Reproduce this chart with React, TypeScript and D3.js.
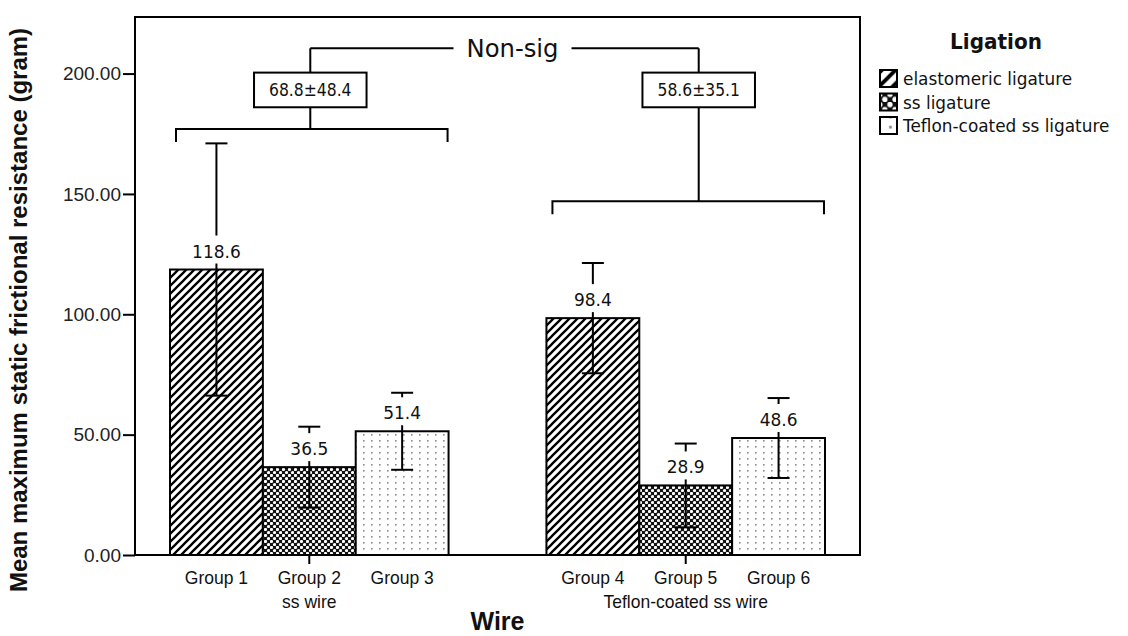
import React, { useEffect, useRef } from 'react';
import * as d3 from 'd3';

// wire types on the x axis, ligation types inside each group
const wires = ['ss wire', 'Teflon-coated ss wire'];
const ligations = ['elastomeric ligature', 'ss ligature', 'Teflon-coated ss ligature'];
const groupNames = [['Group 1', 'Group 2', 'Group 3'], ['Group 4', 'Group 5', 'Group 6']];
const means = [[118.6, 36.5, 51.4], [98.4, 28.9, 48.6]];
const sds = [[52.4, 16.8, 16.0], [22.9, 17.4, 16.6]];
const pooled = ['68.8±48.4', '58.6±35.1'];
const yTicks = [0, 50, 100, 150, 200];

// annotation levels (in grams)
const bracketLevels = [177, 147];
const boxTop = 200.4;
const boxBottom = 186;
const nonSigLevel = 210.5;

const patternIds = ['hatch', 'cross', 'dots'];
const TAHOMA = '"DejaVu Sans", Verdana, sans-serif';
const ARIAL = '"Liberation Sans", Arial, sans-serif';

// tahoma is narrower than dejavu: keep the width of a smaller size, draw taller glyphs
function narrow(sel, drawSize, widthSize) {
  sel.attr('font-size', widthSize);
  const w = sel.node().getComputedTextLength();
  sel.attr('font-size', drawSize)
    .attr('textLength', w)
    .attr('lengthAdjust', 'spacingAndGlyphs');
  return sel;
}

function App() {
  const svgRef = useRef(null);

  useEffect(() => {
    const svg = d3.select(svgRef.current);
    svg.selectAll('*').remove();

    const left = 135, right = 860, top = 17, bottom = 555;

    const y = d3.scaleLinear().domain([0, 223.5]).range([bottom, top]);
    const x0 = d3.scaleBand().domain(wires).range([left, right])
      .paddingInner(0.26).paddingOuter(0.093);
    const x1 = d3.scaleBand().domain(ligations).range([0, x0.bandwidth()]);

    // patterns
    const defs = svg.append('defs');
    const makePatterns = (suffix, scale) => {
      const h = defs.append('pattern').attr('id', 'hatch' + suffix)
        .attr('patternUnits', 'userSpaceOnUse').attr('width', 8).attr('height', 8)
        .attr('patternTransform', `scale(${scale})`);
      h.append('rect').attr('width', 8).attr('height', 8).attr('fill', '#fff');
      h.append('path').attr('d', 'M-2,2 l4,-4 M0,8 l8,-8 M6,10 l4,-4')
        .attr('stroke', '#000').attr('stroke-width', 2.3);

      const c = defs.append('pattern').attr('id', 'cross' + suffix)
        .attr('patternUnits', 'userSpaceOnUse').attr('width', 6).attr('height', 6)
        .attr('patternTransform', `scale(${scale})`);
      c.append('rect').attr('width', 6).attr('height', 6).attr('fill', '#111');
      c.append('circle').attr('cx', 1.5).attr('cy', 1.5).attr('r', 1.6).attr('fill', '#fff');
      c.append('circle').attr('cx', 4.5).attr('cy', 4.5).attr('r', 1.6).attr('fill', '#fff');

      const d = defs.append('pattern').attr('id', 'dots' + suffix)
        .attr('patternUnits', 'userSpaceOnUse').attr('width', 8).attr('height', 6)
        .attr('patternTransform', `scale(${scale})`);
      d.append('rect').attr('width', 8).attr('height', 6).attr('fill', '#fff');
      d.append('rect').attr('x', 3).attr('y', 2).attr('width', 1.6).attr('height', 1.6).attr('fill', '#8a8a8a');
    };
    makePatterns('', 1);
    makePatterns('-lg', 1.7);

    // y axis
    const yAxis = svg.append('g')
      .attr('transform', `translate(${left},0)`)
      .call(d3.axisLeft(y).tickValues(yTicks).tickFormat(d3.format('.2f'))
        .tickSize(12).tickPadding(2).tickSizeOuter(0));
    yAxis.select('.domain').remove();
    yAxis.selectAll('line').attr('stroke', '#000').attr('stroke-width', 2);
    yAxis.selectAll('text')
      .attr('font-family', ARIAL)
      .attr('font-size', 19).attr('fill', '#222');

    // bars
    const flat = [];
    wires.forEach((w, i) => ligations.forEach((l, j) => flat.push({
      w, l, j, mean: means[i][j], sd: sds[i][j], name: groupNames[i][j],
    })));

    svg.append('g').selectAll('rect')
      .data(flat).enter().append('rect')
      .attr('x', d => x0(d.w) + x1(d.l))
      .attr('y', d => y(d.mean))
      .attr('width', x1.bandwidth())
      .attr('height', d => y(0) - y(d.mean))
      .attr('fill', d => `url(#${patternIds[d.j]})`)
      .attr('stroke', '#000').attr('stroke-width', 2);

    // error bars
    const eb = svg.append('g').attr('stroke', '#000').attr('stroke-width', 2);
    flat.forEach(d => {
      const cx = x0(d.w) + x1(d.l) + x1.bandwidth() / 2;
      eb.append('line').attr('x1', cx).attr('x2', cx)
        .attr('y1', y(d.mean + d.sd)).attr('y2', y(d.mean - d.sd));
      [d.mean + d.sd, d.mean - d.sd].forEach(v => {
        eb.append('line').attr('x1', cx - 11).attr('x2', cx + 11)
          .attr('y1', y(v)).attr('y2', y(v));
      });
    });

    // value labels with white backing
    const lab = svg.append('g');
    flat.forEach(d => {
      const cx = x0(d.w) + x1(d.l) + x1.bandwidth() / 2;
      const g = lab.append('g');
      const t = g.append('text')
        .attr('x', cx).attr('y', y(d.mean) - 12)
        .attr('text-anchor', 'middle')
        .attr('font-family', TAHOMA)
        .attr('fill', '#111')
        .text(d.mean.toFixed(1));
      narrow(t, 18.5, 17);
      const bb = t.node().getBBox();
      g.insert('rect', 'text')
        .attr('x', bb.x - 2).attr('y', y(d.mean) - 12 - 22)
        .attr('width', bb.width + 4).attr('height', 28)
        .attr('fill', '#fff');
    });

    // frame
    svg.append('rect')
      .attr('x', left).attr('y', top)
      .attr('width', right - left).attr('height', bottom - top)
      .attr('fill', 'none').attr('stroke', '#000').attr('stroke-width', 2);

    // x ticks and labels
    const xa = svg.append('g');
    wires.forEach((w, i) => {
      const cx = x0(w) + x0.bandwidth() / 2;
      xa.append('line').attr('x1', cx).attr('x2', cx)
        .attr('y1', bottom).attr('y2', bottom + 9)
        .attr('stroke', '#000').attr('stroke-width', 2);
      ligations.forEach((l, j) => {
        const t = xa.append('text')
          .attr('x', x0(w) + x1(l) + x1.bandwidth() / 2).attr('y', 584)
          .attr('text-anchor', 'middle')
          .attr('font-family', ARIAL)
          .attr('fill', '#111')
          .text(groupNames[i][j]);
        narrow(t, 19, 17.5);
      });
      const t = xa.append('text')
        .attr('x', cx).attr('y', 608)
        .attr('text-anchor', 'middle')
        .attr('font-family', ARIAL)
        .attr('fill', '#111')
        .text(w);
      narrow(t, 19, 17.5);
    });

    svg.append('text')
      .attr('x', (left + right) / 2).attr('y', 630)
      .attr('text-anchor', 'middle')
      .attr('font-family', ARIAL)
      .attr('font-weight', 'bold').attr('font-size', 25).attr('fill', '#111')
      .text('Wire');

    svg.append('text')
      .attr('transform', `translate(27,310) rotate(-90)`)
      .attr('text-anchor', 'middle')
      .attr('font-family', ARIAL)
      .attr('font-weight', 'bold').attr('font-size', 24).attr('fill', '#111')
      .text('Mean maximum static frictional resistance (gram)');

    // brackets and pooled mean boxes
    const stemNudge = [1, 13];
    const ann = svg.append('g').attr('stroke', '#000').attr('stroke-width', 2).attr('fill', 'none');
    const stems = [];
    wires.forEach((w, i) => {
      const bx0 = x0(w) + 6;
      const bx1 = x0(w) + x0.bandwidth() - 1;
      const by = y(bracketLevels[i]);
      const sx = x0(w) + x0.bandwidth() / 2 + stemNudge[i];
      stems.push(sx);
      ann.append('path')
        .attr('d', `M${bx0},${by + 13}V${by}H${bx1}V${by + 13}`);
      ann.append('line').attr('x1', sx).attr('x2', sx)
        .attr('y1', by).attr('y2', y(boxBottom));
      ann.append('line').attr('x1', sx).attr('x2', sx)
        .attr('y1', y(boxTop)).attr('y2', y(nonSigLevel));
      const t = svg.append('text')
        .attr('x', sx).attr('y', (y(boxTop) + y(boxBottom)) / 2 + 6.5)
        .attr('text-anchor', 'middle')
        .attr('font-family', TAHOMA)
        .attr('fill', '#111')
        .text(pooled[i]);
      narrow(t, 18.5, 15.6);
      const bw = t.node().getComputedTextLength() + 30;
      ann.append('rect')
        .attr('x', sx - bw / 2).attr('y', y(boxTop))
        .attr('width', bw).attr('height', y(boxBottom) - y(boxTop));
    });

    const nsX = (stems[0] + stems[1]) / 2 + 8;
    const ns = svg.append('text')
      .attr('x', nsX).attr('y', y(nonSigLevel) + 8.5)
      .attr('text-anchor', 'middle')
      .attr('font-family', TAHOMA)
      .attr('fill', '#111')
      .text('Non-sig');
    narrow(ns, 25.5, 24.3);
    const nb = ns.node().getBBox();
    ann.append('line').attr('x1', stems[0]).attr('x2', nb.x - 13)
      .attr('y1', y(nonSigLevel)).attr('y2', y(nonSigLevel));
    ann.append('line').attr('x1', nb.x + nb.width + 13).attr('x2', stems[1])
      .attr('y1', y(nonSigLevel)).attr('y2', y(nonSigLevel));

    // legend
    const lg = svg.append('g');
    const title = lg.append('text')
      .attr('x', 996).attr('y', 49)
      .attr('text-anchor', 'middle')
      .attr('font-family', TAHOMA)
      .attr('font-weight', 'bold').attr('fill', '#111')
      .text('Ligation');
    narrow(title, 21.5, 20);
    ligations.forEach((l, j) => {
      const ly = 70 + j * 23.5;
      lg.append('rect')
        .attr('x', 880).attr('y', ly).attr('width', 17).attr('height', 17)
        .attr('fill', `url(#${patternIds[j]}-lg)`)
        .attr('stroke', '#000').attr('stroke-width', 2);
      const t = lg.append('text')
        .attr('x', 903).attr('y', ly + 15)
        .attr('font-family', TAHOMA)
        .attr('fill', '#111')
        .text(l);
      narrow(t, 18, 16.9);
    });
  }, []);

  return (
    <svg ref={svgRef} width={1128} height={636}
      style={{ position: 'absolute', left: 0, top: 0, background: '#fff' }} />
  );
}

export default App;
